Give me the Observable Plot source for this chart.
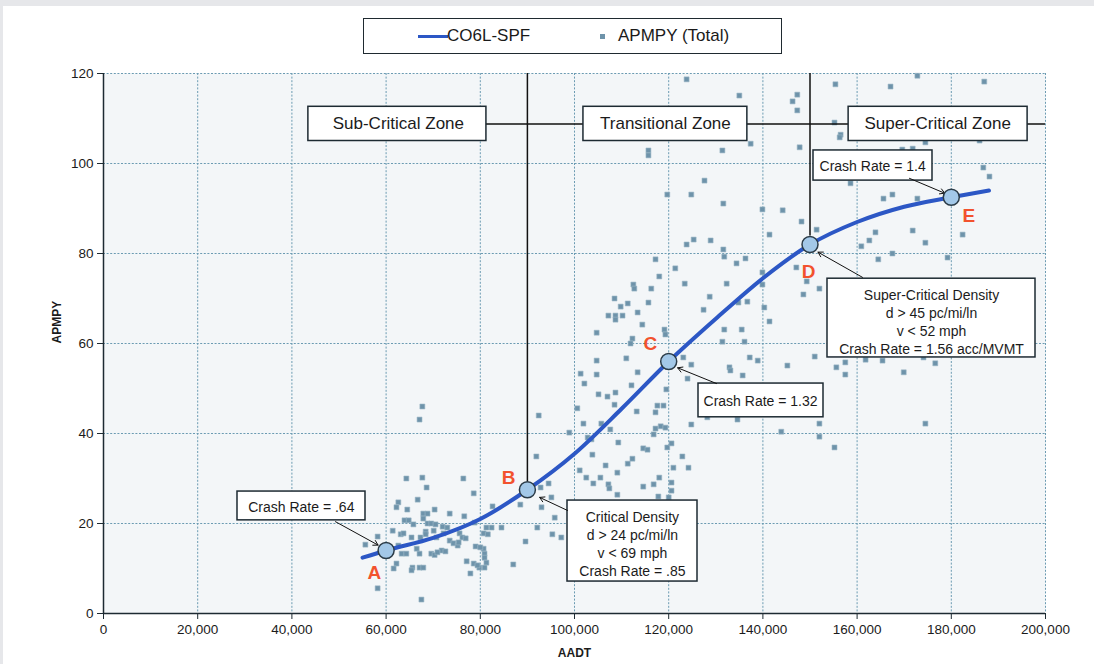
<!DOCTYPE html>
<html><head><meta charset="utf-8">
<script src="https://cdn.jsdelivr.net/npm/d3@7"></script>
<script src="https://cdn.jsdelivr.net/npm/@observablehq/plot@0.6"></script>
<style>
body{margin:0;background:#e6e7ea;font-family:"Liberation Sans",Arial,sans-serif;}
#panel{position:absolute;left:3px;top:6px;width:1091px;height:658px;background:#fff;overflow:hidden;}
#legend{position:absolute;left:360px;top:12px;width:419px;height:36px;border:1.5px solid #1f2a30;box-sizing:border-box;font-size:17px;color:#1a1a1a;background:#fff;}
#legend .ln{position:absolute;left:54px;top:16px;width:30px;height:3px;background:#2c57c5;}
#legend .t1{position:absolute;left:83px;top:7px;}
#legend .sq{position:absolute;left:236px;top:15px;width:5px;height:5px;background:#6e93aa;}
#legend .t2{position:absolute;left:254px;top:7px;}
#chart{position:absolute;left:0;top:56px;}
</style>
</head><body>
<div id="panel">
  <div id="legend"><span class="ln"></span><span class="t1">CO6L-SPF</span><span class="sq"></span><span class="t2">APMPY (Total)</span></div>
  <div id="chart"></div>
</div>
<script>
// ---- Data ----
const xTicks = [0,20000,40000,60000,80000,100000,120000,140000,160000,180000,200000];
const yTicks = [0,20,40,60,80,100,120];

const scatterAADT = [
123800,135000,147300,146300,147300,115700,115700,131400,137400,147800,
127600,119700,124800,131600,139900,144200,148200,141400,125300,123800,
128900,131600,151400,172800,187000,155400,167100,155200,156500,156300,
171800,169600,174500,186000,158600,186800,188100,165600,167500,172800,
163900,162600,160900,171800,174500,182400,167500,164500,179200,139900,
139900,147100,149300,152000,148600,161800,165400,174100,176600,169900,
174500,131800,136300,134400,117200,121400,118000,112500,112700,116300,
123400,132300,108500,111300,109800,115700,128700,134800,136700,140300,
113400,107200,108700,110200,108700,127400,141400,114400,104700,119100,
119300,131800,135500,112300,111900,131400,136100,104700,111000,123100,
124800,132900,133100,137200,138900,145200,151000,101300,104700,102100,
113400,135700,124000,157500,155600,157500,105100,107000,108700,108500,
100600,113200,117600,118900,117200,92400,119500,101900,105700,98900,
107600,117200,118300,119300,116800,124800,134600,143900,152000,152000,
155200,109300,102800,103600,119700,120600,114600,115500,128200,112100,
122900,91900,103800,112300,111300,106600,121000,124200,101100,102500,
105500,109100,118000,104000,107200,107400,114600,116800,120600,120600,
109100,117800,120000,94500,92800,95100,88500,82600,93000,95800,
92100,84500,82400,81300,76400,78600,76600,78800,80700,81600,
89600,97200,95300,79000,80700,80900,80900,81300,80900,79800,
78600,77900,77100,87000,67700,67100,64300,67700,68600,66700,
62600,62200,64500,70300,73500,67900,68800,63900,64800,65800,
67900,68800,69600,70500,72000,68400,70100,63100,63700,65400,
67300,58200,55600,62600,66500,67100,63300,64300,69600,70300,
71800,72600,73500,74300,75200,62200,61600,65600,65400,67100,
67900,58200,67500,73000,75600,76200,76900,80000,79400,75400,
70700,72200,61400,70900,68400];
const scatterAPMPY = [
118.7,115.1,115.3,113.8,111.8,102.9,101.8,102.9,104.4,103.6,
96.2,93.1,93.1,91.1,89.8,89.6,87.1,84.2,83.1,82.0,
82.9,80.9,85.3,119.5,118.2,117.6,117.1,109.1,106.4,105.8,
103.3,103.1,104.7,105.1,95.6,99.1,97.1,92.2,93.1,92.2,
84.7,82.9,81.6,85.1,82.4,84.2,80.0,78.7,79.1,75.8,
73.1,76.9,73.8,72.2,70.9,56.4,56.2,56.9,55.6,53.6,
42.2,79.3,78.9,77.8,78.7,76.7,74.9,73.1,72.2,72.2,
73.3,73.3,70.0,68.9,68.2,69.1,70.4,69.1,69.3,68.0,
66.9,66.2,66.2,66.2,65.3,67.5,64.9,64.2,62.4,63.1,
62.0,63.1,63.1,61.1,60.0,60.4,60.4,56.2,56.7,56.9,
55.3,54.7,54.0,56.9,56.2,55.1,57.1,53.3,53.1,51.1,
53.6,52.9,52.2,55.8,54.7,53.1,48.7,48.2,49.1,46.4,
45.6,44.9,46.2,46.2,44.7,44.0,49.8,42.2,42.2,40.2,
40.9,41.1,41.6,41.3,39.8,42.0,43.1,40.4,42.2,39.3,
36.9,38.0,39.1,38.7,36.9,37.8,36.7,36.4,43.6,50.7,
34.9,34.9,35.3,34.4,33.3,32.9,32.4,32.4,31.8,30.2,
30.2,31.3,30.2,28.9,28.7,27.8,28.2,28.7,29.1,27.3,
26.4,26.0,25.8,28.9,28.0,25.8,24.2,23.8,23.6,21.3,
19.1,19.1,19.1,19.1,30.0,26.7,21.6,20.2,17.8,17.6,
16.0,16.9,17.6,14.9,14.4,13.3,12.4,11.3,10.2,10.2,
11.1,8.9,11.6,10.9,46.0,43.1,30.0,30.2,28.0,25.3,
24.7,23.6,23.1,23.1,22.2,22.2,22.2,20.7,20.7,19.8,
21.1,20.0,20.0,19.8,19.3,18.2,18.4,17.6,17.8,16.9,
16.9,17.1,15.3,15.1,14.4,13.3,13.3,13.3,13.3,13.0,
14.0,13.8,16.2,15.6,15.1,11.1,10.0,10.2,9.6,10.2,
10.2,5.6,3.1,19.1,17.8,16.9,16.7,14.7,10.7,15.8,
16.9,17.8,18.4,13.6,17.6];

// SPF curve
const curveAADT  = [55000,60000,70000,80000,90000,100000,110000,120000,130000,140000,150000,160000,170000,180000,188000];
const curveAPMPY = [12.4,14.0,16.8,21.0,27.5,35.5,45.5,56.0,65.5,74.5,82.0,87.0,90.4,92.5,94.0];

// Key points A–E
const keyLabels = ["A","B","C","D","E"];
const keyAADT   = [60000,90000,120000,150000,180000];
const keyAPMPY  = [14.0,27.5,56.0,82.0,92.5];

// Annotation texts
const zoneTexts = ["Sub-Critical Zone","Transitional Zone","Super-Critical Zone"];
const noteTexts = ["Crash Rate = .64",
  "Critical Density\nd > 24 pc/mi/ln\nv < 69 mph\nCrash Rate = .85",
  "Crash Rate = 1.32",
  "Super-Critical Density\nd > 45 pc/mi/ln\nv < 52 mph\nCrash Rate = 1.56 acc/MVMT",
  "Crash Rate = 1.4"];

// ---- Build tables ----
const points = scatterAADT.map((x,i)=>({x, y: scatterAPMPY[i]}));
const curve = curveAADT.map((x,i)=>({x, y: curveAPMPY[i]}));
const keys = keyLabels.map((k,i)=>({k, x: keyAADT[i], y: keyAPMPY[i]}));

// annotation placements (data units)
const letterPos = [[57500,9.1],[86000,30.2],[116100,59.8],[149700,75.8],[183700,88.4]];
const letters = keyLabels.map((k,i)=>({k, x: letterPos[i][0], y: letterPos[i][1]}));

const zoneBoxes = [
  {x1:43500, x2:81300, cx:62600},
  {x1:101900,x2:136700,cx:119300},
  {x1:158200,x2:196200,cx:177100}
].map((b,i)=>({...b, y1:105.0, y2:112.6, cy:108.8, t: zoneTexts[i]}));

const noteBoxes = [
  {x1:28450, x2:55626, y1:20.7, y2:27.1, cx:42000, cy:23.9},
  {x1:98514, x2:126115,y1:7.1,  y2:25.1, cx:112300,cy:15.6},
  {x1:126327,x2:152866,y1:43.6, y2:51.1, cx:139500,cy:47.35},
  {x1:153715,x2:197877,y1:56.9, y2:74.4, cx:175800,cy:65.0},
  {x1:150743,x2:176008,y1:96.2, y2:102.9,cx:163300,cy:99.55}
].map((b,i)=>({...b, t: noteTexts[i]}));

const arrows = [
  {x1:49257, y1:20.4, x2:58300, y2:15.2},
  {x1:98514, y1:22.9, x2:92600, y2:25.8},
  {x1:130150,y1:51.1, x2:121900,y2:54.6},
  {x1:161146,y1:74.7, x2:151700,y2:80.3},
  {x1:171125,y1:96.7, x2:178600,y2:93.4}
];

const zoneV = [{x:90000, y1:29.3, y2:120},{x:150000, y1:83.9, y2:120}];
const zoneH = [{y:108.8, x1:80000, x2:200000}];

const dark = "#1d2a32";
const chart = Plot.plot({
  width: 1091, height: 602,
  marginLeft: 100, marginRight: 49, marginTop: 11, marginBottom: 51,
  style: {fontFamily: '"Liberation Sans", Arial, sans-serif', color: "#1b1b1b", background: "transparent"},
  x: {domain: [0, 200000]},
  y: {domain: [0, 120]},
  marks: [
    Plot.frame({fill: "#f3f6f8", stroke: null}),
    Plot.gridX(xTicks, {stroke: "#6b9bb2", strokeOpacity: 1, strokeDasharray: "2,1.6"}),
    Plot.gridY(yTicks, {stroke: "#6b9bb2", strokeOpacity: 1, strokeDasharray: "2,1.6"}),
    Plot.axisX(xTicks, {tickFormat: d3.format(","), tickSize: 6, tickPadding: 5, fontSize: 13.5, label: null, stroke: dark}),
    Plot.axisY(yTicks, {tickSize: 6, tickPadding: 4, fontSize: 13.5, label: null, stroke: dark}),
    Plot.ruleX([0], {stroke: dark, strokeWidth: 1.5}),
    Plot.ruleY([0], {stroke: dark, strokeWidth: 1.5}),
    Plot.text(["APMPY"], {frameAnchor: "left", dx: -46, rotate: -90, fontWeight: "bold", fontSize: 12}),
    Plot.text(["AADT"], {frameAnchor: "bottom", dy: 43, fontWeight: "bold", fontSize: 12}),
    Plot.dot(points, {x: "x", y: "y", symbol: "square", r: 2.8, fill: "#6e93aa", stroke: "#9db8c8", strokeWidth: 0.6}),
    Plot.ruleY(zoneH, {y: "y", x1: "x1", x2: "x2", stroke: "#111", strokeWidth: 1.5}),
    Plot.ruleX(zoneV, {x: "x", y1: "y1", y2: "y2", stroke: "#111", strokeWidth: 1.5}),
    Plot.line(curve, {x: "x", y: "y", curve: "monotone-x", stroke: "#2c57c5", strokeWidth: 4}),
    Plot.rect(zoneBoxes, {x1: "x1", x2: "x2", y1: "y1", y2: "y2", fill: "#fff", stroke: dark, strokeWidth: 1.5}),
    Plot.text(zoneBoxes, {x: "cx", y: "cy", text: "t", fontSize: 17, fill: "#1b1b1b"}),
    Plot.rect(noteBoxes, {x1: "x1", x2: "x2", y1: "y1", y2: "y2", fill: "#fff", stroke: dark, strokeWidth: 1.5}),
    Plot.text(noteBoxes, {x: "cx", y: "cy", text: "t", fontSize: 14, lineHeight: 1.28, fill: "#1b1b1b"}),
    Plot.arrow(arrows, {x1: "x1", y1: "y1", x2: "x2", y2: "y2", stroke: "#111", strokeWidth: 1, headLength: 8}),
    Plot.dot(keys, {x: "x", y: "y", r: 8, fill: "#a3c8e8", stroke: "#2b3b47", strokeWidth: 1.5}),
    Plot.text(letters, {x: "x", y: "y", text: "k", fill: "#f2522e", fontWeight: "bold", fontSize: 19})
  ]
});
document.getElementById("chart").appendChild(chart);
</script>
</body></html>
